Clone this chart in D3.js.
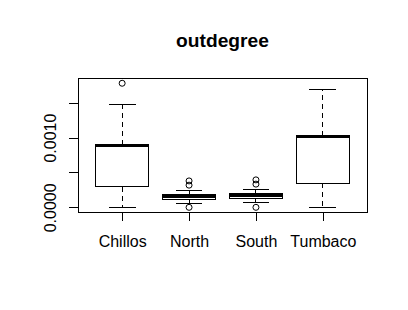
<!DOCTYPE html>
<html>
<head>
<meta charset="utf-8">
<script src="https://cdn.jsdelivr.net/npm/d3@7"></script>
<style>
  body { margin: 0; background: #ffffff; }
  text { font-family: "Liberation Sans", Arial, sans-serif; fill: #000000; }
  line, rect { shape-rendering: crispEdges; }
</style>
</head>
<body>
<div id="boxplot"></div>
<script>
// groups and the five-number summaries
const GROUPS = ["Chillos", "North", "South", "Tumbaco"];
const LOWER = [0.0000, 0.000056, 0.000070, 0.0000];
const Q1 = [0.000298, 0.000108, 0.000132, 0.000343];
const MEDIAN = [0.000883, 0.000161, 0.000168, 0.001013];
const Q3 = [0.000895, 0.000184, 0.000204, 0.001025];
const UPPER = [0.001476, 0.000237, 0.000257, 0.001690];
const OUTLIERS = [[0.001780], [0.000379, 0.000318, 0.0], [0.000394, 0.000333, 0.0], []];

// y tick values and their labels (R drops the ones that would overlap)
const Y_TICKS = [0, 0.0005, 0.0010, 0.0015];
const Y_LABELS = ["0.0000", "", "0.0010", ""];

// frame and plot region
const WIDTH = 408;
const HEIGHT = 310;
const PLOT = {left: 78, right: 367, top: 78.3, bottom: 212.3};

const SVG = d3.select("#boxplot")
              .append("svg")
                .attr("width", WIDTH)
                .attr("height", HEIGHT);

SVG.append("rect")
     .attr("width", WIDTH)
     .attr("height", HEIGHT)
     .attr("fill", "#ffffff");

// R style ranges: 0.5..n+0.5 padded by 4%, data range padded by 4%
const X_SCALE = d3.scaleLinear()
                    .domain([0.34, 4.66])
                    .range([PLOT.left, PLOT.right]);

const Y_MIN = 0, Y_MAX = 0.001780;
const PAD = (Y_MAX - Y_MIN) * 0.04;
const Y_SCALE = d3.scaleLinear()
                    .domain([Y_MIN - PAD, Y_MAX + PAD])
                    .range([PLOT.bottom, PLOT.top]);

const BOXW = 0.8;    // box width in x units
const CAPW = 0.4;    // staple width

// one row per group
const data = GROUPS.map((g, i) => {
  return {name: g, i: i + 1, lo: LOWER[i], q1: Q1[i], med: MEDIAN[i],
          q3: Q3[i], hi: UPPER[i], out: OUTLIERS[i]};
});

const BOXES = SVG.selectAll("g.box")
                  .data(data)
                  .enter()
                  .append("g")
                    .attr("class", "box");

// dashed whiskers
BOXES.append("line")
       .attr("x1", (d) => X_SCALE(d.i)).attr("x2", (d) => X_SCALE(d.i))
       .attr("y1", (d) => Y_SCALE(d.q3)).attr("y2", (d) => Y_SCALE(d.hi))
       .attr("stroke", "#000").attr("stroke-dasharray", "5,4");
BOXES.append("line")
       .attr("x1", (d) => X_SCALE(d.i)).attr("x2", (d) => X_SCALE(d.i))
       .attr("y1", (d) => Y_SCALE(d.q1)).attr("y2", (d) => Y_SCALE(d.lo))
       .attr("stroke", "#000").attr("stroke-dasharray", "5,4");

// staples
BOXES.append("line")
       .attr("x1", (d) => X_SCALE(d.i - CAPW / 2)).attr("x2", (d) => X_SCALE(d.i + CAPW / 2))
       .attr("y1", (d) => Y_SCALE(d.hi)).attr("y2", (d) => Y_SCALE(d.hi))
       .attr("stroke", "#000");
BOXES.append("line")
       .attr("x1", (d) => X_SCALE(d.i - CAPW / 2)).attr("x2", (d) => X_SCALE(d.i + CAPW / 2))
       .attr("y1", (d) => Y_SCALE(d.lo)).attr("y2", (d) => Y_SCALE(d.lo))
       .attr("stroke", "#000");

// the box
BOXES.append("rect")
       .attr("x", (d) => X_SCALE(d.i - BOXW / 2))
       .attr("width", (d) => X_SCALE(d.i + BOXW / 2) - X_SCALE(d.i - BOXW / 2))
       .attr("y", (d) => Y_SCALE(d.q3))
       .attr("height", (d) => Y_SCALE(d.q1) - Y_SCALE(d.q3))
       .attr("fill", "#ffffff")
       .attr("stroke", "#000");

// thick median
BOXES.append("line")
       .attr("x1", (d) => X_SCALE(d.i - BOXW / 2)).attr("x2", (d) => X_SCALE(d.i + BOXW / 2))
       .attr("y1", (d) => Y_SCALE(d.med)).attr("y2", (d) => Y_SCALE(d.med))
       .attr("stroke", "#000").attr("stroke-width", 3);

// outliers as open circles
BOXES.selectAll("circle")
       .data((d) => d.out.map((v) => ({i: d.i, v: v})))
       .enter()
       .append("circle")
         .attr("cx", (d) => X_SCALE(d.i))
         .attr("cy", (d) => Y_SCALE(d.v))
         .attr("r", 3)
         .attr("fill", "none")
         .attr("stroke", "#000");

// plot frame
SVG.append("rect")
     .attr("x", PLOT.left)
     .attr("y", PLOT.top)
     .attr("width", PLOT.right - PLOT.left)
     .attr("height", PLOT.bottom - PLOT.top)
     .attr("fill", "none")
     .attr("stroke", "#000");

// x axis
const XAXIS = SVG.append("g")
                  .attr("transform", "translate(0," + PLOT.bottom + ")")
                  .call(d3.axisBottom(X_SCALE)
                          .tickValues(d3.range(1, GROUPS.length + 1))
                          .tickFormat((d) => GROUPS[d - 1])
                          .tickSize(9));
XAXIS.select(".domain").remove();
XAXIS.selectAll("line").attr("stroke", "#000");
XAXIS.selectAll("text")
       .attr("y", 34.3)
       .attr("dy", 0)
       .attr("font-size", "16px")
       .attr("fill", "#000");

// y axis with rotated labels
const YAXIS = SVG.append("g")
                  .attr("transform", "translate(" + PLOT.left + ",0)")
                  .call(d3.axisLeft(Y_SCALE)
                          .tickValues(Y_TICKS)
                          .tickFormat((d, i) => Y_LABELS[i])
                          .tickSize(9));
YAXIS.select(".domain").remove();
YAXIS.selectAll("line").attr("stroke", "#000");
YAXIS.selectAll("text")
       .attr("x", 0)
       .attr("dy", 0)
       .attr("transform", "translate(-22.5,0) rotate(-90)")
       .attr("text-anchor", "middle")
       .attr("font-size", "16px")
       .attr("fill", "#000");

// title
SVG.append("text")
     .attr("x", (PLOT.left + PLOT.right) / 2)
     .attr("y", 47.3)
     .attr("text-anchor", "middle")
     .attr("font-size", "19.2px")
     .attr("font-weight", "bold")
     .text("outdegree");
</script>
</body>
</html>
